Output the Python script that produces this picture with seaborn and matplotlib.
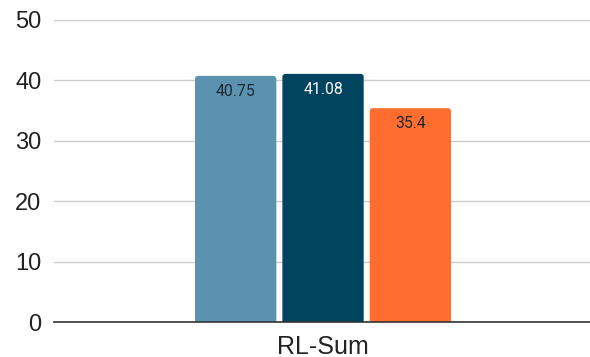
import matplotlib
matplotlib.use("Agg")
import matplotlib.pyplot as plt
from matplotlib.patches import FancyBboxPatch
import seaborn as sns
import pandas as pd

categories = ["RL-Sum"]
series = ["Series 1", "Series 2", "Series 3"]
values = [40.75, 41.08, 35.4]
labels = ["40.75", "41.08", "35.4"]
colors = ["#5B92B0", "#024360", "#FF6D2F"]
label_colors = ["#1f2a33", "#ffffff", "#1f2a33"]
yticks = [0, 10, 20, 30, 40, 50]

df = pd.DataFrame({"cat": categories * len(series), "series": series, "value": values})

sns.set_theme(style="white")
plt.rcParams["font.family"] = ["Liberation Sans", "DejaVu Sans"]

fig = plt.figure(figsize=(5.9, 3.57), dpi=100)
ax = fig.add_axes([0.0915, 0.098, 0.912, 0.846])

sns.barplot(data=df, x="cat", y="value", hue="series", palette=colors,
            width=0.487, gap=0.069, ax=ax, legend=False, saturation=1)

ax.set_ylim(0, 50)
ax.set_yticks(yticks)
ax.set_yticklabels([str(t) for t in yticks], fontsize=17, color="#222222")
ax.set_xlabel("")
ax.set_ylabel("")
ax.tick_params(axis="y", length=0, pad=9)
ax.tick_params(axis="x", length=0, pad=9, labelsize=18, labelcolor="#222222")
ax.grid(axis="y", color="#cccccc", linewidth=1)
ax.set_axisbelow(True)
for s in ["top", "right", "left"]:
    ax.spines[s].set_visible(False)
ax.spines["bottom"].set_color("#333333")
ax.spines["bottom"].set_linewidth(1.2)
ax.spines["bottom"].set_zorder(5)

# rounded top corners
fig.canvas.draw()
bbox = ax.get_window_extent()
xl = ax.get_xlim()
x_per_px = (xl[1] - xl[0]) / bbox.width
y_per_px = 50 / bbox.height
r_px = 3
for patch in list(ax.patches):
    x0, w, h = patch.get_x(), patch.get_width(), patch.get_height()
    fc = patch.get_facecolor()
    patch.set_visible(False)
    rb = FancyBboxPatch((x0, -1.0), w, h + 1.0,
                        boxstyle=f"round,pad=0,rounding_size={r_px * x_per_px}",
                        mutation_aspect=y_per_px / x_per_px,
                        facecolor=fc, edgecolor="none", zorder=3, clip_on=True)
    ax.add_patch(rb)
    ax.annotate(labels[len([p for p in ax.patches if not p.get_visible()]) - 1],
                (x0 + w / 2, h), xytext=(0, -11), textcoords="offset points",
                ha="center", va="center", fontsize=11.4,
                color=label_colors[len([p for p in ax.patches if not p.get_visible()]) - 1],
                family=["Roboto", "DejaVu Sans"], zorder=4)

fig.savefig("out.png", dpi=100, facecolor="white")
